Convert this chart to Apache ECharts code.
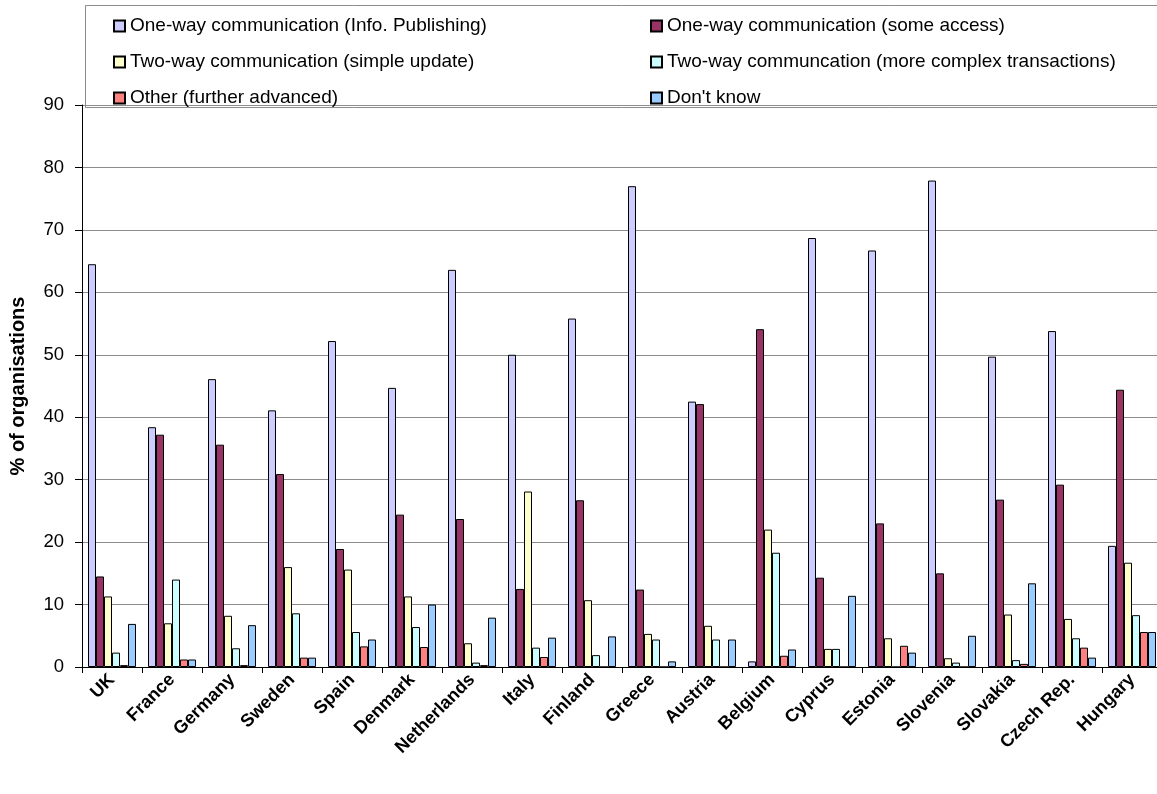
<!DOCTYPE html>
<html>
<head>
<meta charset="utf-8">
<script src="https://cdn.jsdelivr.net/npm/echarts@6/dist/echarts.min.js"></script>
<style>html,body{margin:0;padding:0;background:#fff;overflow:hidden;}#c{width:1157px;height:794px;}</style>
</head>
<body>
<div id="c"></div>
<script>
const categories = ['UK','France','Germany','Sweden','Spain','Denmark','Netherlands','Italy','Finland','Greece','Austria','Belgium','Cyprus','Estonia','Slovenia','Slovakia','Czech Rep.','Hungary'];
const seriesNames = ['One-way communication (Info. Publishing)','One-way communication (some access)','Two-way communication (simple update)','Two-way communcation (more complex transactions)','Other (further advanced)',"Don't know"];
const infoPublishing = [64.5,38.4,46.1,41.1,52.2,44.7,63.6,50.0,55.8,77.0,42.5,0.9,68.7,66.7,77.9,49.7,53.8,19.4];
const someAccess     = [14.5,37.2,35.6,30.9,18.9,24.4,23.7,12.5,26.7,12.4,42.1,54.1,14.3,23.0,15.0,26.8,29.2,44.4];
const simpleUpdate   = [11.3,7.0,8.2,16.0,15.6,11.3,3.8,28.1,10.7,5.3,6.6,22.0,2.9,4.6,1.4,8.4,7.7,16.7];
const complexTrans   = [2.3,14.0,3.0,8.6,5.6,6.4,0.7,3.1,1.9,4.4,4.4,18.3,2.9,0,0.7,1.1,4.6,8.3];
const furtherAdv     = [0.3,1.2,0.3,1.5,3.3,3.2,0.3,1.6,0,0,0,1.8,0,3.4,0,0.5,3.1,5.6];
const dontKnow       = [6.9,1.2,6.7,1.5,4.4,10.0,7.9,4.7,4.9,0.9,4.4,2.8,11.4,2.3,5.0,13.4,1.5,5.6];
const yTicks = {min:0, max:90, interval:10};
const colors = ['#CCCCFF','#993366','#FFFFCC','#CCFFFF','#FF8080','#99CCFF'];
const values = [infoPublishing, someAccess, simpleUpdate, complexTrans, furtherAdv, dontKnow];

const FONT = 'Liberation Sans, Arial, sans-serif';
const chart = echarts.init(document.getElementById('c'), null, {renderer:'canvas'});
const legendCommon = {
  orient:'vertical', itemWidth:11, itemHeight:11, itemGap:16, padding:0,
  icon:'rect',
  textStyle:{fontFamily:FONT, fontSize:19, lineHeight:20, color:'#000'},
  selectedMode:false
};
chart.setOption({
  animation:false,
  color: colors,
  graphic:[{type:'rect', shape:{x:85.5,y:5.5,width:1100,height:102}, style:{fill:'none', stroke:'#8c8c8c', lineWidth:1}, z:-1}],
  legend:[
    Object.assign({left:113, top:16, data:[seriesNames[0],seriesNames[2],seriesNames[4]]}, legendCommon),
    Object.assign({left:650, top:16, data:[seriesNames[1],seriesNames[3],seriesNames[5]]}, legendCommon)
  ],
  grid:{left:82, right:-5, top:105, bottom:127, containLabel:false, outerBoundsMode:'none'},
  xAxis:{
    type:'category', data:categories,
    axisLine:{lineStyle:{color:'#000', width:1}},
    axisTick:{show:true, length:6, lineStyle:{color:'#000'}},
    axisLabel:{rotate:45, interval:0, fontFamily:FONT, fontWeight:'bold', fontSize:18, color:'#000', margin:10}
  },
  yAxis:{
    type:'value', min:yTicks.min, max:yTicks.max, interval:yTicks.interval,
    name:'% of organisations', nameLocation:'middle', nameGap:54, nameRotate:90,
    nameTextStyle:{fontFamily:FONT, fontWeight:'bold', fontSize:20, color:'#000'},
    axisLine:{show:true, lineStyle:{color:'#000', width:1}},
    axisTick:{show:true, length:7, lineStyle:{color:'#000'}},
    axisLabel:{fontFamily:FONT, fontSize:18.5, color:'#000', margin:18},
    splitLine:{lineStyle:{color:'#8c8c8c', width:1}}
  },
  series: seriesNames.map((n,i)=>({
    name:n, type:'bar', data:values[i],
    barGap:'0%', barCategoryGap:'20%',
    itemStyle:{color:colors[i], borderColor:'#000', borderWidth:1}
  }))
});
</script>
</body>
</html>
